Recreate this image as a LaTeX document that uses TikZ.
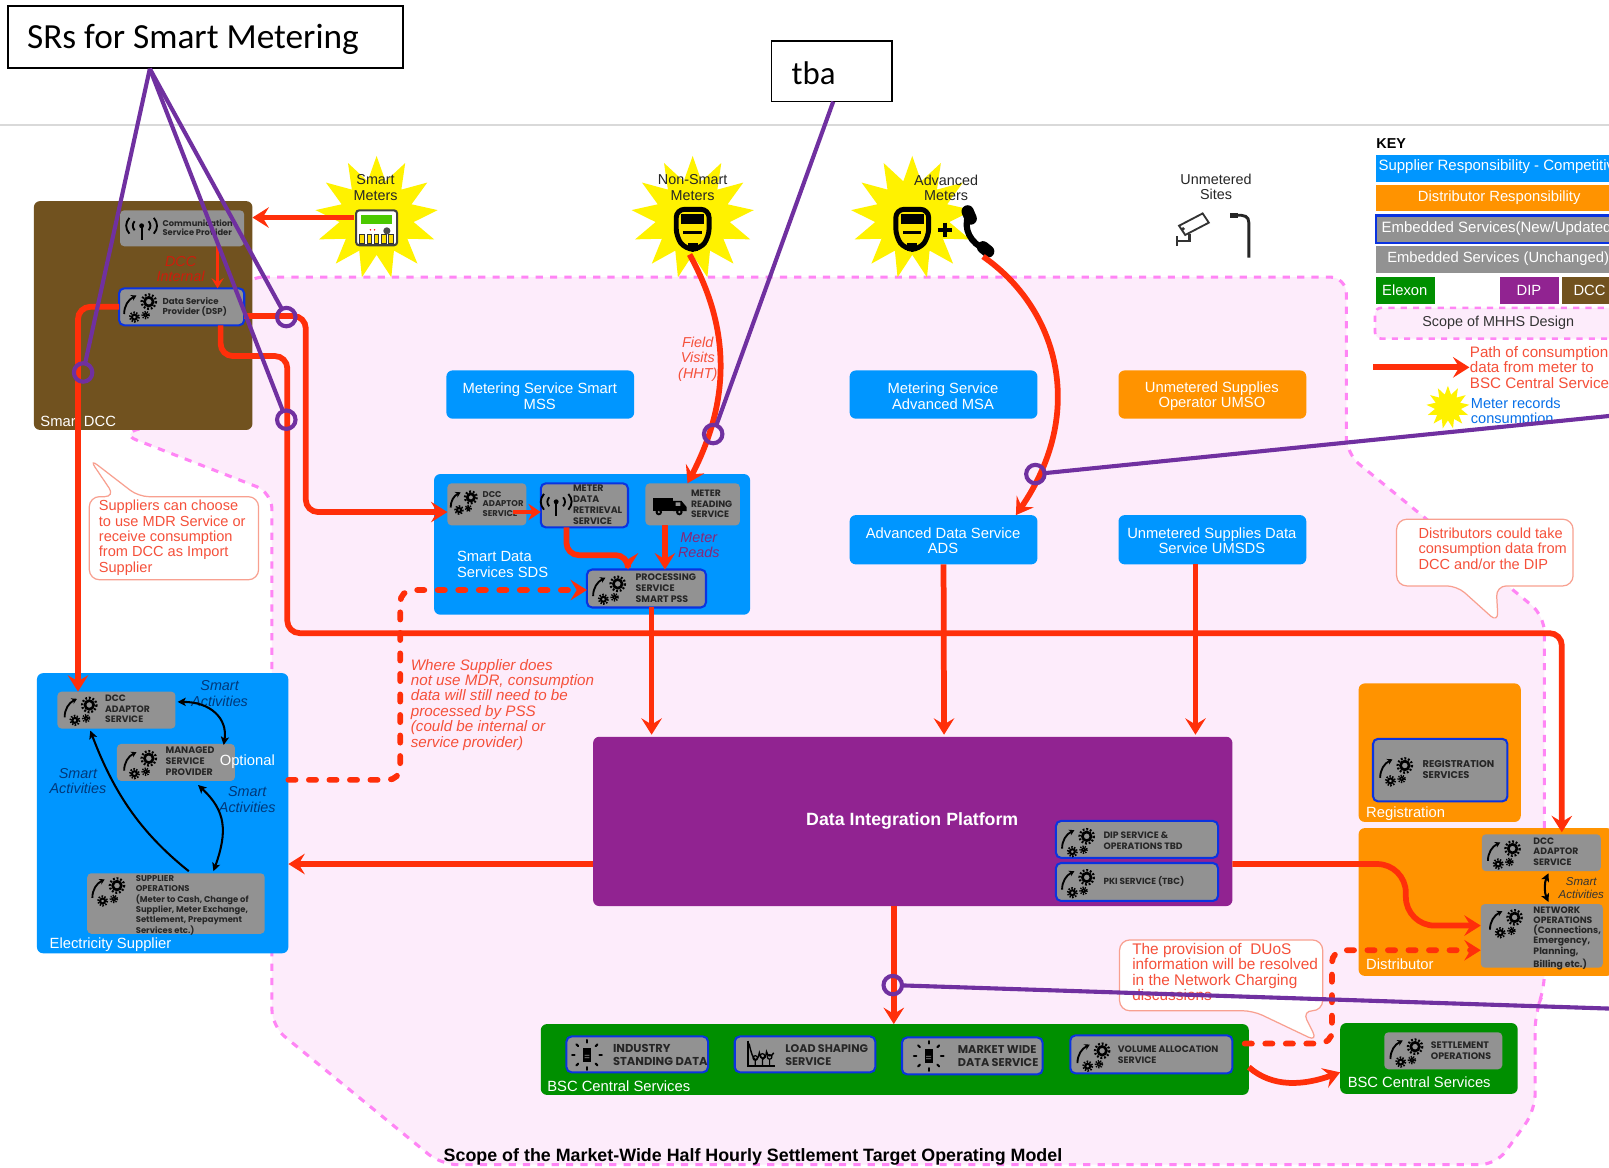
\documentclass[tikz,border=0pt]{standalone}
\usepackage{fontspec}
\setmainfont{Liberation Sans}
\newfontfamily\svcfam{Poppins}
\newfontfamily\calfam{Carlito}
\usetikzlibrary{arrows.meta,shapes.geometric,calc}
\definecolor{cRed}{HTML}{FF2F0A}
\definecolor{cBlue}{HTML}{0096FF}
\definecolor{cOrange}{HTML}{FF9300}
\definecolor{cPurple}{HTML}{912391}
\definecolor{cGreen}{HTML}{008F00}
\definecolor{cGray}{HTML}{929292}
\definecolor{cBrown}{HTML}{71521F}
\definecolor{cEdge}{HTML}{0A33E0}
\definecolor{cPink}{HTML}{FDECFB}
\definecolor{cDash}{HTML}{FF85F5}
\definecolor{cVio}{HTML}{7030A0}
\definecolor{cSalmon}{HTML}{F8A090}
\definecolor{cText}{HTML}{F5503A}
\definecolor{cSmart}{HTML}{00387A}
\tikzset{
  region/.style={fill=#1,rounded corners=3pt,inner sep=0,outer sep=0},
  svc/.style={fill=cGray,rounded corners=2pt,inner sep=0,outer sep=0},
  svcnew/.style={fill=cGray,draw=cEdge,line width=1pt,rounded corners=2.5pt,inner sep=0,outer sep=0},
  keybar/.style={fill=#1,inner sep=0,outer sep=0},
  lab/.style={inner sep=0,align=center,text=white,font=\fontsize{7.2}{7.7}\selectfont},
  labl/.style={lab,anchor=west,align=left},
  keyt/.style={inner sep=0,anchor=west,align=left,text=white,font=\fontsize{7.3}{7.7}\selectfont},
  svct/.style={inner sep=0,anchor=west,align=left,text=black!85,font={\pgfmathparse{#1*1.15}\svcfam\bfseries\fontsize{#1}{\pgfmathresult}\selectfont}},
  svcn/.style={inner sep=0,anchor=north west,align=left,text=black!85,font=\svcfam\bfseries\fontsize{#1}{5}\selectfont},
  redt/.style={inner sep=0,align=left,anchor=north west,text=cText,font=\fontsize{7.1}{7.5}\selectfont},
  redi/.style={inner sep=0,align=center,text=cText,font=\itshape\fontsize{7}{7.5}\selectfont},
  smt/.style={inner sep=0,align=center,text=cSmart,font=\itshape\fontsize{7}{7.6}\selectfont},
  blk/.style={inner sep=0,align=center,text=black!85,font=\fontsize{7}{7.6}\selectfont},
  flow/.style={draw=cRed,line width=2.8pt,rounded corners=6pt,-{Stealth[length=8pt,width=10pt,inset=3pt]}},
  flowd/.style={flow,line cap=round,dash pattern=on 3.5pt off 6.5pt},
  act/.style={draw=black,line width=1pt,-{Stealth[length=4pt,width=4pt,inset=1pt]}},
  actb/.style={act,{Stealth[length=4pt,width=4pt,inset=1pt]}-{Stealth[length=4pt,width=4pt,inset=1pt]}},
  ray/.style={draw=cVio,line width=2pt},
  ring/.style={circle,draw=cVio,line width=2pt,minimum size=9pt,inner sep=0,outer sep=0},
  burst/.style={star,star points=13,star point ratio=1.65,fill=yellow,inner sep=0,outer sep=0,minimum size=#1},
  callbox/.style={draw=cSalmon,fill=white,line width=.6pt,rounded corners=5pt},
  srbox/.style={draw=black,fill=white,line width=.8pt,inner sep=0,outer sep=0},
  gearicon/.pic={
    \draw[black,line width=1.3pt] (12,-4) circle[radius=4.2];
    \draw[black,line width=1.1pt,dash pattern=on .9pt off .9pt] (12,-4) circle[radius=7];
    \draw[black,line width=1pt] (-2,11) circle[radius=2.4];
    \draw[black,line width=1pt,dash pattern=on .7pt off .7pt] (-2,11) circle[radius=4.5];
    \draw[black,line width=.8pt] (9,9) circle[radius=1.8];
    \draw[black,line width=.8pt,dash pattern=on .6pt off .6pt] (9,9) circle[radius=3.4];
    \draw[black,line width=.9pt,-{Stealth[length=2.6pt,width=3pt]}] (-12,8) .. controls (-12,0) and (-8,-6) .. (0,-10);
  },
  antenna/.pic={
    \draw[black,line width=1pt] (0,-2) -- (0,12);
    \fill[black] (0,-2) circle[radius=2.4];
    \foreach \r in {8,14}{
      \draw[black,line width=.9pt] ({-\r*.85},{-2-.55*\r}) .. controls ({-\r*1.15},{-2-.2*\r}) and ({-\r*1.15},{-2+.2*\r}) .. ({-\r*.85},{-2+.55*\r});
      \draw[black,line width=.9pt] ({\r*.85},{-2-.55*\r}) .. controls ({\r*1.15},{-2-.2*\r}) and ({\r*1.15},{-2+.2*\r}) .. ({\r*.85},{-2+.55*\r});
    }
  },
  vanicon/.pic={
    \fill[black] (-16,-7) rectangle (4,6);
    \fill[black] (4,-4) -- (12,-4) -- (17,2) -- (17,6) -- (4,6) -- cycle;
    \fill[black] (-10,7) circle[radius=3.2] (10,7) circle[radius=3.2];
    \fill[cGray] (-10,7) circle[radius=1.2] (10,7) circle[radius=1.2] (6.5,-2.5) rectangle (11,1);
  },
  dociconb/.pic={
    \fill[black] (-4,-6.5) rectangle (4,6.5);
    \fill[cGray] (-2.4,0) rectangle (2.4,.8) (-2.4,2.4) rectangle (2.4,3.2);
    \foreach \a in {0,45,...,315}{
      \draw[black,line width=1pt,line cap=round] (\a:12) -- (\a:14.5);
    }
  },
  charticon/.pic={
    \draw[black,line width=.7pt] (-13,-14) -- (-13,11) -- (13,11);
    \draw[black,line width=.7pt] (-12,-11) .. controls (-8,8) and (-4,8) .. (-2,-2) .. controls (0,6) and (4,6) .. (5,-3) .. controls (6,2) and (10,2) .. (12,-2);
    \draw[black,line width=.6pt] (-6,3) circle[radius=2.2] (-6,5) -- (-6,11) (1,1) circle[radius=2.2] (1,3) -- (1,11) (8,2) circle[radius=2.2] (8,4) -- (8,11);
  },
  metersmart/.pic={
    \draw[draw=black!75,fill=white,line width=1pt,rounded corners=1.5pt] (-20,-17) rectangle (20,17);
    \fill[green!70!black!70!yellow] (-15,-12) rectangle (15,-4);
    \fill[black!70] (10,3) circle[radius=3.5];
    \fill[red] (-6,2) circle[radius=.8] (-2,2) circle[radius=.8];
    \foreach \i in {-14,-7,0,7,14}{\fill[yellow!80!orange] (\i-2.2,7) rectangle (\i+2.2,15);
      \draw[black!80,line width=.5pt] (\i-2.2,7) rectangle (\i+2.2,15);}
  },
  meterdumb/.pic={
    \draw[black,fill=yellow!90!orange,line width=2.4pt,rounded corners=4pt] (-16,-20) -- (16,-20) -- (16,7) -- (7,19) -- (-7,19) -- (-16,7) -- cycle;
    \fill[black] (-11,-15) rectangle (11,-6);
    \fill[black] (-9,1) rectangle (9,4);
    \fill[black] (-5,13) rectangle (5,21);
  },
  phoneicon/.pic={
    \draw[black,line width=3pt] (-8,-16) .. controls (-14,-2) and (-6,12) .. (8,18);
    \draw[black,line width=6pt,line cap=round] (-9,-19) -- (-6,-12);
    \draw[black,line width=6pt,line cap=round] (6,16) -- (11,20);
  },
  cameraicon/.pic={
    \draw[black!80,fill=white,line width=.9pt] (-13,-2) -- (10,-14) -- (16,-5) -- (-7,7) -- cycle;
    \fill[black!80] (-9,1) circle[radius=1.8];
    \draw[black!80,line width=1.2pt] (-3,6) -- (-3,13) -- (-14,13);
    \draw[black!80,line width=1.2pt] (-15,8) -- (-15,18);
  },
  lampicon/.pic={
    \draw[black!85,line width=1.4pt] (6,22) -- (6,-12) .. controls (6,-18) and (2,-20) .. (-7,-19);
    \draw[black!85,line width=2.2pt] (-12,-19) -- (-5,-19);
  },
}
\newcommand{\bx}[6]{\node[#6,minimum width={(#4-#2)*0.5pt},minimum height={(#5-#3)*0.5pt}] (#1) at ({(#2+#4)/2},{(#3+#5)/2}) {};}
\begin{document}
\begin{tikzpicture}[x=0.5pt,y=-0.5pt]
\useasboundingbox (0,0) rectangle (1568,1138.2);
\clip (0,0) rectangle (1568,1138.2);
\fill[white] (0,0) rectangle (1568,1138.2);
\draw[black!15,line width=.8pt] (0,122) -- (1568,122);
% scope of design
\draw[fill=cPink,draw=cDash,line width=1.5pt,dash pattern=on 3.5pt off 3.5pt,rounded corners=8pt]
  (240,270) -- (1312,270) -- (1312,442) -- (1505,600) -- (1505,965) -- (1496,987) -- (1496,1082) -- (1458,1135) -- (430,1135) -- (265,1000) -- (265,480) -- (118,423) -- (200,400) -- cycle;
% bursts
\node[burst=60pt] (st1) at (367,212) {};
\node[burst=60pt] (st2) at (675,212) {};
\node[burst=60pt] (st3) at (889,212) {};
% regions
\bx{dcc}{33}{196}{246}{419}{region=cBrown}
\bx{sds}{423}{462}{731}{599}{region=cBlue}
\bx{sup}{36}{656}{281}{929}{region=cBlue}
\bx{reg}{1324}{666}{1482}{801}{region=cOrange}
\bx{dist}{1324}{807}{1572}{951}{region=cOrange}
\bx{dip}{578}{718}{1201}{883}{region=cPurple}
\bx{bsc}{527}{998}{1217}{1067}{region=cGreen}
\bx{bsctwo}{1306}{997}{1479}{1066}{region=cGreen}
\bx{mss}{435}{361}{618}{408}{region=cBlue}
\bx{msa}{828}{361}{1011}{408}{region=cBlue}
\bx{umso}{1090}{361}{1273}{408}{region=cOrange}
\bx{ads}{828}{502}{1011}{550}{region=cBlue}
\bx{umsds}{1090}{502}{1273}{550}{region=cBlue}
% services
\bx{csp}{117}{205}{238}{240}{svc}
\bx{dsp}{116}{281}{238}{317}{svcnew}
\bx{sadp}{436}{471}{513}{512}{svc}
\bx{mdr}{527}{471}{612}{514}{svcnew}
\bx{mrs}{629}{471}{721}{512}{svc}
\bx{pss}{572}{555}{688}{592}{svcnew}
\bx{eadp}{56}{674}{171}{710}{svc}
\bx{msp}{114}{725}{229}{761}{svc}
\bx{sop}{85}{851}{258}{910}{svc}
\bx{dips}{1029}{800}{1187}{836}{svcnew}
\bx{pki}{1029}{841}{1187}{878}{svcnew}
\bx{regs}{1338}{720}{1469}{781}{svcnew}
\bx{dadp}{1444}{813}{1560}{849}{svc}
\bx{nop}{1443}{881}{1562}{943}{svc}
\bx{isd}{552}{1010}{690}{1045}{svcnew}
\bx{lss}{716}{1010}{853}{1045}{svcnew}
\bx{mwd}{879}{1011}{1016}{1047}{svcnew}
\bx{vas}{1043}{1009}{1201}{1046}{svcnew}
\bx{sets}{1349}{1006}{1464}{1042}{svc}
% icons
\pic at (138,222) {antenna};
\pic at (133,298) {gearicon};
\pic[scale=.82] at (449,488) {gearicon};
\pic at (542,491) {antenna};
\pic at (652,492) {vanicon};
\pic at (590,573) {gearicon};
\pic at (75,691) {gearicon};
\pic at (133,743) {gearicon};
\pic at (102,867) {gearicon};
\pic at (1047,819) {gearicon};
\pic at (1047,859) {gearicon};
\pic at (1357,750) {gearicon};
\pic at (1462,831) {gearicon};
\pic at (1464,898) {gearicon};
\pic at (572,1028) {dociconb};
\pic at (742,1028) {charticon};
\pic at (905,1029) {dociconb};
\pic at (1062,1028) {gearicon};
\pic at (1367,1024) {gearicon};
\pic at (367,222) {metersmart};
\pic at (675,224) {meterdumb};
\pic at (889,224) {meterdumb};
\pic at (952,225) {phoneicon};
\pic at (1162,222) {cameraicon};
\pic at (1211,229) {lampicon};
\draw[black,line width=2pt] (914,224) -- (928,224) (921,217) -- (921,231);
% service texts
\node[svct=4.05] (tcsp) at (158,222) {Communication\\Service Provider};
\node[svct=4.2] (tdsp) at (158,299) {Data Service\\Provider (DSP)};
\node[svct=4.1] (tsadp) at (470,491) {DCC\\ADAPTOR\\SERVICE};
\node[svct=4.6] (tmdr) at (558,492) {METER\\DATA\\RETRIEVAL\\SERVICE};
\node[svct=4.5] (tmrs) at (673,491) {METER\\READING\\SERVICE};
\node[svct=4.6] (tpss) at (619,573) {PROCESSING\\SERVICE\\SMART PSS};
\node[svct=4.5] (teadp) at (102,691) {DCC\\ADAPTOR\\SERVICE};
\node[svct=4.6] (tmsp) at (161,742) {MANAGED\\SERVICE\\PROVIDER};
\node[svcn=4.1] (tsop) at (132,853) {SUPPLIER\\OPERATIONS\\(Meter to Cash, Change of\\Supplier, Meter Exchange,\\Settlement, Prepayment\\Services etc.)};
\node[svct=4.5] (tdips) at (1075,819) {DIP SERVICE \&\\OPERATIONS TBD};
\node[svct=4.3] (tpki) at (1075,859) {PKI SERVICE (TBC)};
\node[svct=4.8] (tregs) at (1386,750) {REGISTRATION\\SERVICES};
\node[svct=4.5] (tdadp) at (1494,830) {DCC\\ADAPTOR\\SERVICE};
\node[svcn=4.5] (tnop) at (1494,883) {NETWORK\\OPERATIONS\\(Connections,\\Emergency,\\Planning,\\Billing etc.)};
\node[svct=5.6] (tisd) at (597,1028) {INDUSTRY\\STANDING DATA};
\node[svct=5.4] (tlss) at (765,1028) {LOAD SHAPING\\SERVICE};
\node[svct=5.5] (tmwd) at (933,1029) {MARKET WIDE\\DATA SERVICE};
\node[svct=4.55] (tvas) at (1089,1028) {VOLUME ALLOCATION\\SERVICE};
\node[svct=4.6] (tsets) at (1394,1024) {SETTLEMENT\\OPERATIONS};
% labels
\node[labl] (ldcc) at (39,411) {Smart DCC};
\node[lab] (lmss) at (526,386) {Metering Service Smart\\MSS};
\node[lab] (lmsa) at (919,386) {Metering Service\\Advanced MSA};
\node[lab] (lumso) at (1181,386) {Unmetered Supplies\\Operator UMSO};
\node[lab] (lads) at (919,527) {Advanced Data Service\\ADS};
\node[lab] (lumsds) at (1181,527) {Unmetered Supplies Data\\Service UMSDS};
\node[labl] (lsds) at (445,550) {Smart Data\\Services SDS};
\node[labl] (lsup) at (48,921) {Electricity Supplier};
\node[lab] (lopt) at (241,742) {Optional};
\node[labl] (lreg) at (1331,793) {Registration};
\node[labl] (ldist) at (1331,940) {Distributor};
\node[labl] (lbsc) at (533,1059) {BSC Central Services};
\node[labl] (lbsct) at (1313,1055) {BSC Central Services};
\node[inner sep=0,text=white,font=\bfseries\fontsize{8.65}{9}\selectfont] (ldip) at (889,800) {Data Integration Platform};
\node[blk] (lsm) at (366,183) {Smart\\Meters};
\node[blk] (lns) at (675,183) {Non-Smart\\Meters};
\node[blk] (lad) at (922,183) {Advanced\\Meters};
\node[blk] (lun) at (1185,182) {Unmetered\\Sites};
\node[inner sep=0,anchor=west,text=black,font=\bfseries\fontsize{8.7}{9}\selectfont] (ltitle) at (432,1127) {Scope of the Market-Wide Half Hourly Settlement Target Operating Model};
\node[inner sep=0,align=center,text=red!65!cBrown,font=\itshape\fontsize{7}{7.5}\selectfont] (ldcci) at (176,262) {DCC\\Internal};
\node[redi] (lfv) at (680,350) {Field\\Visits\\(HHT)};
\node[inner sep=0,align=center,text=red!55!blue!70!gray,font=\itshape\fontsize{7}{7.5}\selectfont] (lmr) at (681,531) {Meter\\Reads};
\node[redt,font=\itshape\fontsize{7.4}{7.5}\selectfont] (lwhere) at (400,642) {Where Supplier does\\not use MDR, consumption\\data will still need to be\\processed by PSS\\(could be internal or\\service provider)};
\node[smt] (sa1) at (214,676) {Smart\\Activities};
\node[smt] (sa2) at (76,761) {Smart\\Activities};
\node[smt] (sa3) at (241,779) {Smart\\Activities};
\node[inner sep=0,align=center,text=black!80,font=\itshape\fontsize{5.6}{6.4}\selectfont] (sa4) at (1541,865) {Smart\\Activities};
% callouts
\draw[callbox] (112,484) -- (87,447) -- (135,484) -- (252,484) -- (252,565) -- (87,565) -- (87,484) -- cycle;
\draw[callbox] (1361,506) -- (1533,506) -- (1533,571) -- (1458,571) -- (1460,607) -- (1420,571) -- (1361,571) -- cycle;
\draw[callbox] (1091,916) -- (1289,916) -- (1289,985) -- (1269,985) -- (1284,1015) -- (1221,985) -- (1091,985) -- cycle;
\node[redt] (csup) at (96,487) {Suppliers can choose\\to use MDR Service or\\receive consumption\\from DCC as Import\\Supplier};
\node[redt] (cdist) at (1382,514) {Distributors could take\\consumption data from\\DCC and/or the DIP};
\node[redt,font=\fontsize{7.5}{7.5}\selectfont] (cduos) at (1103,919) {The provision of~ DUoS\\information will be resolved\\in the Network Charging\\discussions};
% connectors
\coordinate (wa) at (76,299);
\coordinate (wb) at (298,308);
\coordinate (wc) at (298,499);
\coordinate (wd) at (215,347);
\coordinate (we) at (280,347);
\coordinate (wf) at (280,617);
\coordinate (wg) at (1522,617);
\coordinate (eadpIn) at (76,674);
\coordinate (dsprt) at (238,308);
\coordinate (dspbt) at (215,317);
\coordinate (dadpIn) at (1522,811);
\draw[flow] (dsp.west) -- (wa) -- (eadpIn);
\draw[flow] (dsprt) -- (wb) -- (wc) -- (sadp.west |- wc);
\draw[flow] (dspbt) -- (wd) -- (we) -- (wf) -- (wg) -- (dadpIn);
\draw[flow,shorten <=11pt] (st1.center) -- (dcc.east |- st1.center);
\coordinate (cspb) at (212,240);
\coordinate (dspt) at (212,281);
\draw[flow,line width=1.6pt,-{Stealth[length=5pt,width=6pt,inset=2pt]}] (cspb) -- (dspt);
\coordinate (ma) at (672,248);
\coordinate (mb) at (670,471);
\draw[flow] (ma) .. controls (712,320) and (712,390) .. (mb);
\coordinate (na) at (958,250);
\coordinate (nb) at (990,502);
\draw[flow] (na) .. controls (1030,300) and (1060,400) .. (nb);
\coordinate (mdrb) at (552,514);
\coordinate (pssa) at (552,541);
\coordinate (pssb) at (612,541);
\coordinate (pssc) at (612,555);
\draw[flow] (mdrb) -- (pssa) -- (pssb) -- (pssc);
\coordinate (mrsb) at (648,512);
\coordinate (pssd) at (648,555);
\draw[flow] (mrsb) -- (pssd);
\coordinate (sadpr) at (500,499);
\draw[flow,line width=2pt,-{Stealth[length=6pt,width=8pt,inset=2pt]}] (sadpr) -- (mdr.west |- sadpr);
\coordinate (supr) at (281,760);
\coordinate (da) at (390,760);
\coordinate (db) at (390,575);
\draw[flowd] (supr) -- (da) -- (db) -- (pss.west |- db);
\coordinate (pssbt) at (635,592);
\coordinate (dipa) at (635,716);
\draw[flow] (pssbt) -- (dipa);
\coordinate (dipb) at (920,716);
\coordinate (dipc) at (1165,716);
\draw[flow] (ads.south) -- (dipb);
\draw[flow] (umsds.south -| dipc) -- (dipc);
\coordinate (dipl) at (578,842);
\draw[flow] (dipl) -- (sup.east |- dipl);
\coordinate (dipr) at (1201,842);
\coordinate (ra) at (1370,842);
\coordinate (rb) at (1370,902);
\draw[flow,rounded corners=14pt] (dipr) -- (ra) -- (rb) -- (nop.west |- rb);
\coordinate (dipbt) at (871,883);
\draw[flow] (dipbt) -- (bsc.north -| dipbt);
\coordinate (bscr) at (1213,1017);
\coordinate (xa) at (1298,1017);
\coordinate (xb) at (1298,926);
\draw[flowd] (bscr) -- (xa) -- (xb) -- (nop.west |- xb);
\coordinate (bscq) at (1217,1040);
\coordinate (tsc) at (1306,1045);
\draw[flow] (bscq) .. controls (1240,1060) and (1270,1058) .. (tsc);
% black arrows
\coordinate (b1) at (173,684);
\coordinate (b2) at (218,726);
\draw[actb] (b1) .. controls (205,684) and (222,700) .. (b2);
\coordinate (b3) at (184,849);
\coordinate (b4) at (88,712);
\draw[act] (b3) .. controls (135,810) and (110,770) .. (b4);
\coordinate (b5) at (208,849);
\coordinate (b6) at (193,765);
\draw[actb] (b5) .. controls (222,810) and (220,790) .. (b6);
\coordinate (b7) at (1509,851);
\coordinate (b8) at (1509,879);
\draw[actb] (b7) .. controls (1505,860) and (1505,870) .. (b8);
% key
\node[inner sep=0,anchor=west,text=black,font=\bfseries\fontsize{7}{8}\selectfont] (kk) at (1341,140) {KEY};
\bx{ka}{1341}{151}{1572}{177}{keybar=cBlue}
\bx{kb}{1341}{180}{1572}{206}{keybar=cOrange}
\bx{kc}{1341}{210}{1572}{237}{keybar=cGray,draw=cEdge,line width=1pt}
\bx{kd}{1341}{240}{1572}{266}{keybar=cGray}
\bx{ke}{1341}{270}{1398}{296}{keybar=cGreen}
\bx{kf}{1462}{270}{1519}{296}{keybar=cPurple}
\bx{kg}{1522}{270}{1572}{296}{keybar=cBrown}
\draw[fill=cPink,draw=cDash,line width=1.3pt,dash pattern=on 3pt off 3pt,rounded corners=3pt] (1575,300) -- (1340,300) -- (1340,330) -- (1575,330);
\node[keyt] (kat) at (1343,162.5) {Supplier Responsibility - Competitive};
\node[lab] (kbt) at (1461,192.5) {Distributor Responsibility};
\node[keyt] (kct) at (1346,222.5) {Embedded Services(New/Updated)};
\node[lab] (kdt) at (1460,252.5) {Embedded Services (Unchanged)};
\node[lab] (ket) at (1369,283) {Elexon};
\node[lab] (kft) at (1490,283) {DIP};
\node[lab] (kgt) at (1549,283) {DCC};
\node[blk,text=black!80] (kht) at (1460,315) {Scope of MHHS Design};
\node[redt,font=\fontsize{7.4}{7.5}\selectfont] (kit) at (1432,337) {Path of consumption\\data from meter to\\BSC Central Services};
\node[redt,text=cEdge!70!cyan] (kjt) at (1433,387) {Meter records\\consumption};
\coordinate (kar) at (1338,358);
\draw[flow] (kar) -- (kit.west |- kar);
\node[burst=21pt] (kst) at (1411,397) {};
% purple annotations
\node[srbox,minimum width=192.5pt,minimum height=30pt] (srs) at (200.5,36) {};
\node[inner sep=0,anchor=west,text=black,font=\calfam\fontsize{17.2}{18}\selectfont] (srst) at (26,38) {SRs for Smart Metering};
\node[srbox,minimum width=58.5pt,minimum height=29.5pt] (tba) at (810.5,69.5) {};
\node[inner sep=0,anchor=west,text=black,font=\calfam\fontsize{16}{18}\selectfont] (tbat) at (771,71) {tba};
\node[ring] (r1) at (81,363) {};
\node[ring] (r2) at (279,309) {};
\node[ring] (r3) at (279,409) {};
\node[ring] (r4) at (695,423) {};
\node[ring] (r5) at (1009,462) {};
\node[ring] (r6) at (870,960) {};
\coordinate (srsp) at (146,67);
\coordinate (tbap) at (812,99);
\coordinate (eastu) at (1572,405);
\coordinate (eastl) at (1572,983);
\draw[ray] (srsp) -- (r1);
\draw[ray] (srsp) -- (r2);
\draw[ray] (srsp) -- (r3);
\draw[ray] (tbap) -- (r4);
\draw[ray] (eastu) -- (r5);
\draw[ray] (eastl) -- (r6);
\end{tikzpicture}
\end{document}
